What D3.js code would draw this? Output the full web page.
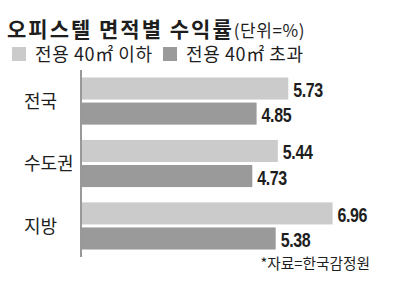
<!DOCTYPE html>
<html>
<head>
<meta charset="utf-8">
<script src="https://cdn.jsdelivr.net/npm/d3@7"></script>
<style>
  body { margin: 0; background: #fff; }
  text { font-family: 'Noto Sans CJK KR', sans-serif; fill: #1e1e1e; }
  .num { font-family: 'Liberation Sans', sans-serif; }
</style>
</head>
<body>
<div id="chart"></div>
<script>
// data
const regions = ['전국', '수도권', '지방']
const seriesNames = ['전용 40㎡ 이하', '전용 40㎡ 초과']
const smallUnits = [5.73, 5.44, 6.96]
const largeUnits = [4.85, 4.73, 5.38]
const colors = ['#cbcbcb', '#9a9a9a']

const dims = { width: 400, height: 290 }

const svg = d3.select('#chart')
  .append('svg')
  .attr('width', dims.width)
  .attr('height', dims.height)

// title
const title = svg.append('text')
  .attr('x', 7)
  .attr('y', 37)
title.append('tspan')
  .attr('font-size', 21)
  .attr('font-weight', 'bold')
  .attr('letter-spacing', 2)
  .text('오피스텔 면적별 수익률')
title.append('tspan')
  .attr('font-size', 17)
  .attr('letter-spacing', 0.6)
  .text('(단위=%)')

// legend
const legendX = [12, 163]
seriesNames.forEach((name, i) => {
  svg.append('rect')
    .attr('x', legendX[i])
    .attr('y', 47)
    .attr('width', 14)
    .attr('height', 14)
    .attr('fill', colors[i])
  svg.append('text')
    .attr('x', legendX[i] + 23)
    .attr('y', 61)
    .attr('font-size', 18)
    .attr('letter-spacing', 0.6)
    .text(name)
})

// scales
const yScale = d3.scaleBand()
  .domain(regions)
  .range([70, 257])
  .paddingInner(0.245)
  .paddingOuter(0.12)

const ySub = d3.scaleBand()
  .domain(seriesNames)
  .range([0, yScale.bandwidth()])
  .paddingInner(0.12)

const xScale = d3.scaleLinear()
  .domain([0, 8])
  .range([82, 370])

const rows = regions.map((r, i) => ({
  region: r,
  values: [
    { key: seriesNames[0], value: smallUnits[i], color: colors[0] },
    { key: seriesNames[1], value: largeUnits[i], color: colors[1] },
  ],
}))

const groups = svg.selectAll('g.group')
  .data(rows)
  .join('g')
  .attr('class', 'group')
  .attr('transform', d => `translate(0, ${yScale(d.region)})`)

groups.selectAll('rect')
  .data(d => d.values)
  .join('rect')
  .attr('x', xScale(0))
  .attr('y', d => ySub(d.key))
  .attr('width', d => xScale(d.value) - xScale(0))
  .attr('height', ySub.bandwidth())
  .attr('fill', d => d.color)

// value labels, squeezed to look like the condensed newspaper digits
groups.selectAll('text.num')
  .data(d => d.values)
  .join('text')
  .attr('class', 'num')
  .attr('transform', d =>
    `translate(${xScale(d.value) + 5}, ${ySub(d.key) + ySub.bandwidth() / 2 + 8.5}) scale(0.8, 1)`)
  .attr('font-size', 20)
  .attr('font-weight', 'bold')
  .attr('letter-spacing', -0.5)
  .text(d => d.value.toFixed(2))

// category labels
groups.append('text')
  .attr('x', 24)
  .attr('y', yScale.bandwidth() / 2 + 7)
  .attr('font-size', 18)
  .text(d => d.region)

// axis line
svg.append('line')
  .attr('x1', xScale(0) - 1)
  .attr('x2', xScale(0) - 1)
  .attr('y1', yScale.range()[0])
  .attr('y2', yScale.range()[1])
  .attr('stroke', '#777')
  .attr('stroke-width', 1.5)

// source
svg.append('text')
  .attr('x', 370)
  .attr('y', 269)
  .attr('text-anchor', 'end')
  .attr('font-size', 14.7)
  .text('*자료=한국감정원')
</script>
</body>
</html>
